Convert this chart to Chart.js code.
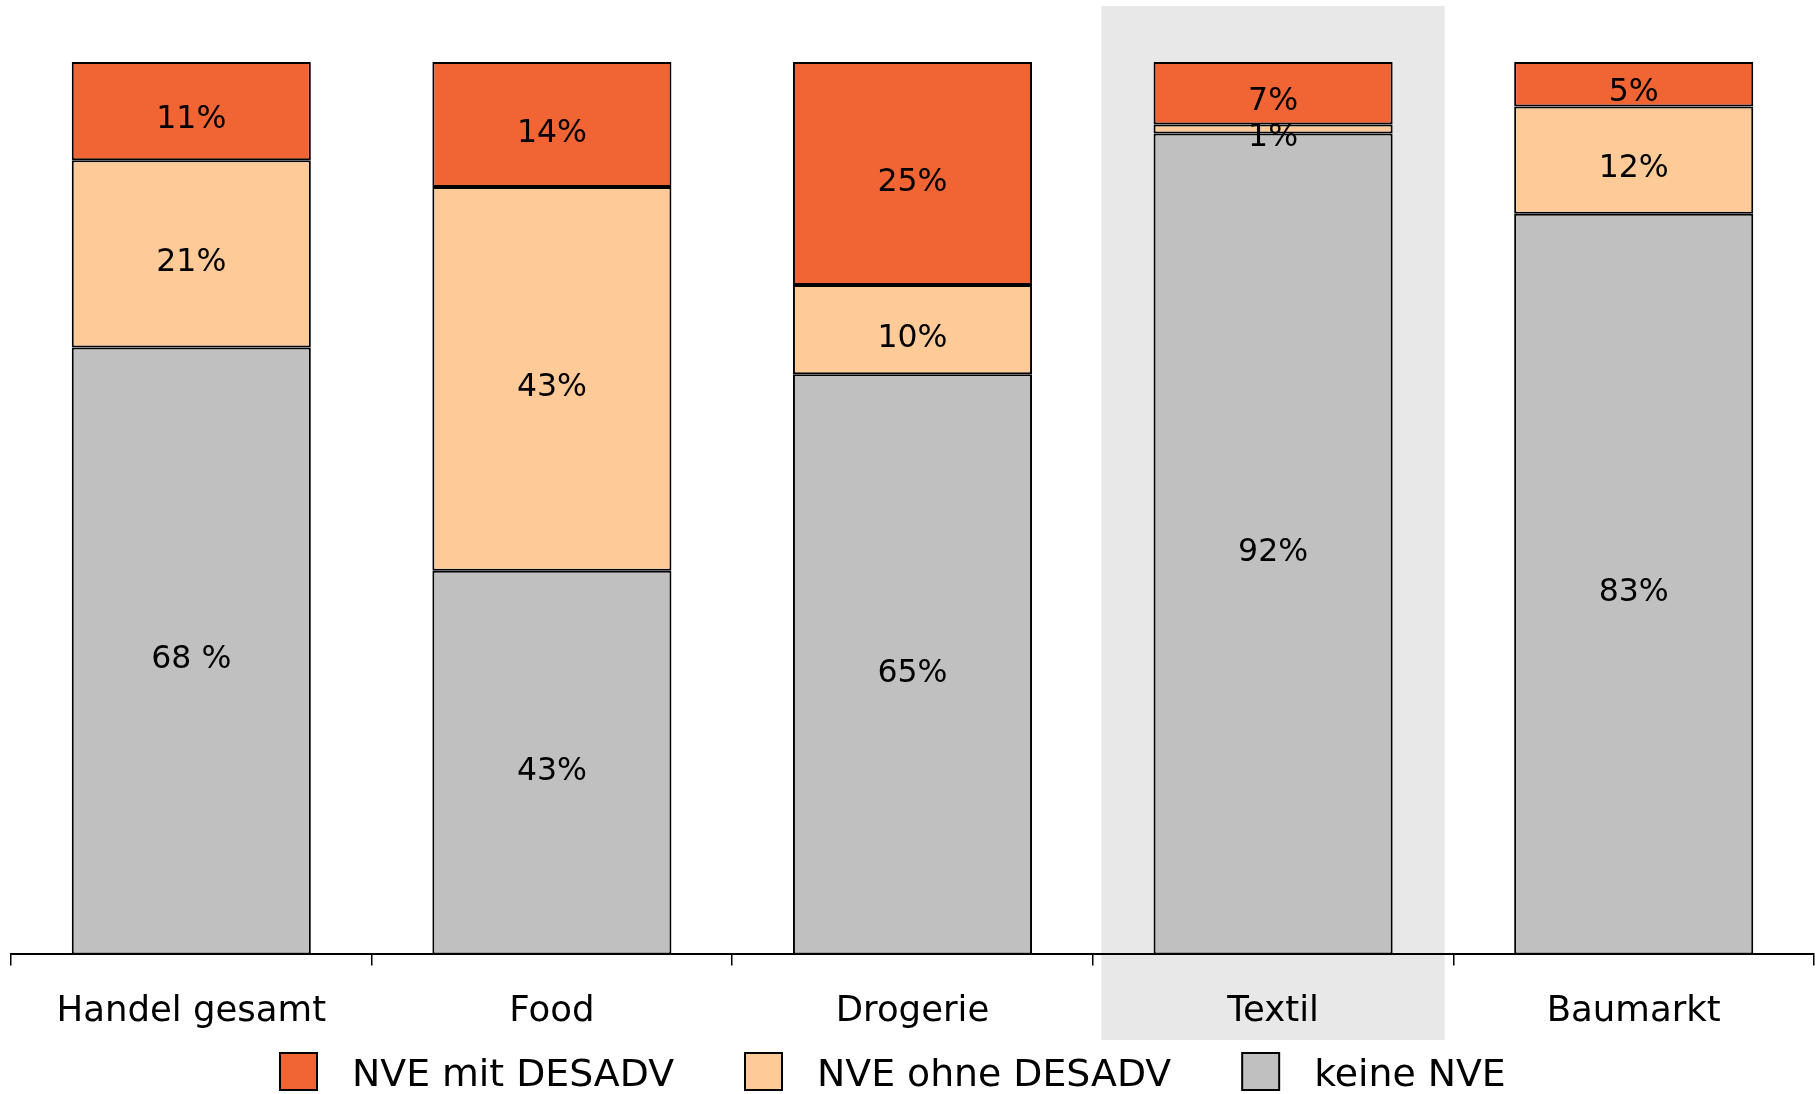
<!DOCTYPE html>
<html>
<head>
<meta charset="utf-8">
<script src="https://cdn.jsdelivr.net/npm/chart.js@4"></script>
<style>
  html, body { margin: 0; padding: 0; background: #fff; }
  #wrap { width: 1816px; height: 1094px; position: relative; }
</style>
</head>
<body>
<div id="wrap"><canvas id="chart"></canvas></div>
<script>
const categories = ["Handel gesamt", "Food", "Drogerie", "Textil", "Baumarkt"];
const keineNVE = [68, 43, 65, 92, 83];
const nveOhneDesadv = [21, 43, 10, 1, 12];
const nveMitDesadv = [11, 14, 25, 7, 5];
const keineLabels = ["68 %", "43%", "65%", "92%", "83%"];
const ohneLabels = ["21%", "43%", "10%", "1%", "12%"];
const mitLabels = ["11%", "14%", "25%", "7%", "5%"];
const highlighted = "Textil";

const FONT = "'DejaVu Sans', Verdana, sans-serif";

// grey band behind the highlighted category
const highlightBand = {
  id: "highlightBand",
  beforeDraw(chart) {
    const x = chart.scales.x, ctx = chart.ctx;
    const i = categories.indexOf(highlighted);
    const w = (x.right - x.left) / categories.length;
    const cx = x.getPixelForValue(i);
    ctx.save();
    ctx.fillStyle = "#e8e8e8";
    ctx.fillRect(cx - w * 0.476, 6, w * 0.952, 1034);
    ctx.restore();
  }
};

// percentage text inside each segment
const segmentLabels = {
  id: "segmentLabels",
  afterDatasetsDraw(chart) {
    const ctx = chart.ctx;
    ctx.save();
    ctx.font = "31.5px " + FONT;
    ctx.fillStyle = "#000";
    ctx.textAlign = "center";
    ctx.textBaseline = "middle";
    chart.data.datasets.forEach((ds, di) => {
      chart.getDatasetMeta(di).data.forEach((bar, i) => {
        ctx.fillText(ds.valueLabels[i], bar.x, (bar.y + bar.base) / 2 + 9);
      });
    });
    ctx.restore();
  }
};

// legend row under the axis labels, top dataset first
const bottomLegend = {
  id: "bottomLegend",
  afterDraw(chart) {
    const ctx = chart.ctx;
    const items = chart.data.datasets.slice().reverse();
    ctx.save();
    ctx.font = "37.8px " + FONT;
    ctx.textBaseline = "middle";
    ctx.textAlign = "left";
    let x = 280;
    const top = 1053, size = 37;
    items.forEach(ds => {
      ctx.fillStyle = ds.backgroundColor;
      ctx.fillRect(x, top, size, size);
      ctx.lineWidth = 2;
      ctx.strokeStyle = "#000";
      ctx.strokeRect(x, top, size, size);
      ctx.fillStyle = "#000";
      ctx.fillText(ds.label, x + 72, top + size / 2 + 5);
      x += 72 + ctx.measureText(ds.label).width + 71;
    });
    ctx.restore();
  }
};

new Chart(document.getElementById("chart"), {
  type: "bar",
  data: {
    labels: categories,
    datasets: [
      { label: "keine NVE", data: keineNVE, valueLabels: keineLabels, backgroundColor: "#c0c0c0" },
      { label: "NVE ohne DESADV", data: nveOhneDesadv, valueLabels: ohneLabels, backgroundColor: "#fecb98" },
      { label: "NVE mit DESADV", data: nveMitDesadv, valueLabels: mitLabels, backgroundColor: "#f16434" }
    ].map(d => Object.assign(d, {
      borderColor: "#000", borderWidth: 2, borderSkipped: false,
      categoryPercentage: 1, barPercentage: 0.663
    }))
  },
  options: {
    responsive: true,
    maintainAspectRatio: false,
    animation: false,
    layout: { padding: { top: 62, left: 11, right: 2, bottom: 36 } },
    plugins: { legend: { display: false }, tooltip: { enabled: false } },
    scales: {
      x: {
        stacked: true,
        grid: { offset: true, drawOnChartArea: false, drawTicks: true, tickLength: 11, color: "#000", lineWidth: 1.5 },
        border: { display: true, color: "#000", width: 2 },
        ticks: { color: "#000", padding: 25, font: { family: FONT, size: 35.5 } }
      },
      y: { stacked: true, display: false, min: 0, max: 100 }
    }
  },
  plugins: [highlightBand, segmentLabels, bottomLegend]
});
</script>
</body>
</html>
